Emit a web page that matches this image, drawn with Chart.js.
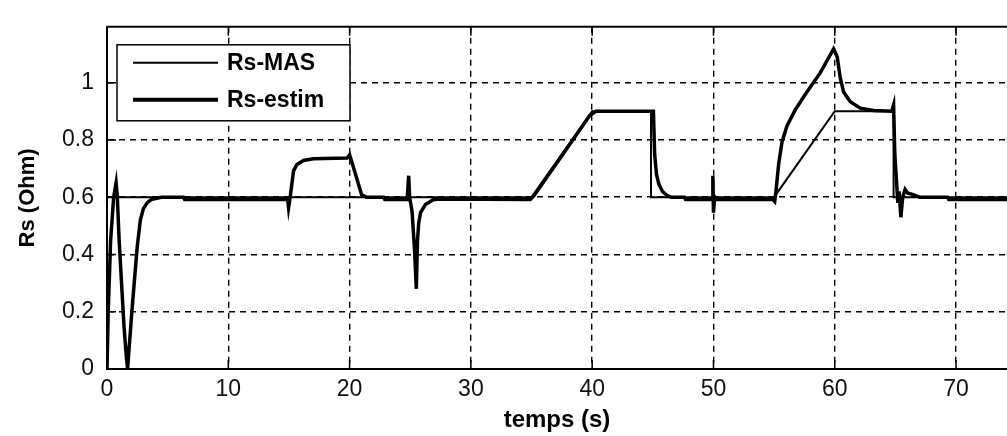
<!DOCTYPE html>
<html>
<head>
<meta charset="utf-8">
<script src="https://cdn.jsdelivr.net/npm/chart.js@4/dist/chart.umd.min.js"></script>
<style>
  html, body { margin: 0; padding: 0; background: #fff; overflow: hidden; }
</style>
</head>
<body>
<canvas id="myChart" width="1007" height="436"></canvas>
<script>
// tick positions
var xTicks = [0, 10, 20, 30, 40, 50, 60, 70];
var yTicks = [0, 0.2, 0.4, 0.6, 0.8, 1];

// Rs-MAS (reference resistance)
var masTime  = [0, 35, 40, 44.85, 44.85, 55, 60, 64.85, 64.85, 76];
var masValue = [0.6, 0.6, 0.9, 0.9, 0.6, 0.6, 0.9, 0.9, 0.6, 0.6];

// Rs-estim (estimated resistance)
var estTime = [0, 0.1, 0.3, 0.55, 0.75, 0.85, 1.0, 1.2, 1.4, 1.6, 1.7, 1.8, 2.05, 2.3, 2.5, 2.75, 3.0, 3.3, 3.7, 4.5,
    6.3, 6.4, 14.9, 14.97, 15.1, 15.38, 15.66, 16.2, 17.0, 19.8, 20.0, 20.1, 21.0, 21.4, 22.8, 22.9,
    24.75, 24.87, 24.95, 25.15, 25.35, 25.5, 25.6, 25.7, 25.85, 26.25, 26.9, 27.3,
    34.9, 35.2, 37.5, 39.8, 40.3, 45.05, 45.15, 45.3, 45.5, 45.8, 46.2, 46.5, 47.6, 47.7,
    49.9, 49.95, 50.0, 50.1, 50.2, 54.9, 55.05, 55.15, 55.37, 55.65, 56.06, 56.74, 57.7, 58.8, 59.9,
    60.2, 60.45, 60.73, 61.28, 62.1, 63.2, 64.7, 64.85, 64.95, 65.1, 65.2, 65.3, 65.45, 65.6, 65.8,
    66.0, 66.4, 67.0, 69.3, 69.4, 76];
var estValue = [0, 0.2, 0.45, 0.6, 0.65, 0.6, 0.45, 0.3, 0.15, 0.04, 0, 0.06, 0.2, 0.33, 0.43, 0.52, 0.56, 0.58, 0.593, 0.6,
    0.6, 0.592, 0.592, 0.563, 0.6, 0.692, 0.714, 0.728, 0.734, 0.737, 0.748, 0.735, 0.608, 0.6, 0.6, 0.592,
    0.592, 0.675, 0.6, 0.55, 0.42, 0.28, 0.45, 0.51, 0.546, 0.574, 0.591, 0.594,
    0.592, 0.605, 0.745, 0.885, 0.9, 0.9, 0.75, 0.68, 0.645, 0.62, 0.605, 0.6, 0.6, 0.592,
    0.592, 0.675, 0.546, 0.6, 0.592, 0.592, 0.585, 0.62, 0.714, 0.793, 0.849, 0.905, 0.967, 1.034, 1.118,
    1.09, 1.017, 0.967, 0.933, 0.911, 0.903, 0.9, 0.922, 0.75, 0.65, 0.58, 0.62, 0.53, 0.6, 0.627,
    0.615, 0.61, 0.6, 0.6, 0.592, 0.592];

function toPoints(xs, ys) {
    return xs.map(function (x, i) { return {x: x, y: ys[i]}; });
}

var fontName = '"Liberation Sans", Arial, sans-serif';

// MATLAB-like frame: top edge, inward ticks, and boxed legend
var matlabFrame = {
    id: 'matlabFrame',
    afterDraw: function (chart) {
        var ctx = chart.ctx, a = chart.chartArea;
        var xs = chart.scales.x, ys = chart.scales.y;
        ctx.save();
        ctx.strokeStyle = '#000';
        ctx.lineWidth = 2;
        ctx.beginPath();
        ctx.moveTo(a.left, a.top);
        ctx.lineTo(a.right, a.top);
        ctx.stroke();

        ctx.lineWidth = 1.5;
        ctx.beginPath();
        xTicks.forEach(function (t) {
            var px = xs.getPixelForValue(t);
            ctx.moveTo(px, a.bottom); ctx.lineTo(px, a.bottom - 9);
            ctx.moveTo(px, a.top); ctx.lineTo(px, a.top + 9);
        });
        yTicks.forEach(function (v) {
            var py = ys.getPixelForValue(v);
            ctx.moveTo(a.left, py); ctx.lineTo(a.left + 9, py);
        });
        ctx.stroke();

        // legend box
        var bx = a.left + 10, by = a.top + 18, bw = 233, bh = 76;
        ctx.fillStyle = '#fff';
        ctx.fillRect(bx, by, bw, bh);
        ctx.lineWidth = 1.5;
        ctx.strokeRect(bx, by, bw, bh);
        ctx.font = 'bold 23px ' + fontName;
        ctx.textBaseline = 'middle';
        ctx.fillStyle = '#000';
        chart.data.datasets.forEach(function (ds, i) {
            var ly = by + 18 + i * 37;
            ctx.lineWidth = i === 0 ? 2 : 4;
            ctx.beginPath();
            ctx.moveTo(bx + 16, ly);
            ctx.lineTo(bx + 101, ly);
            ctx.stroke();
            ctx.fillText(ds.label, bx + 110, ly + 1);
        });
        ctx.restore();
    }
};

var element = document.getElementById('myChart').getContext('2d');

var chartData = {
    datasets: [{
        label: 'Rs-MAS',
        data: toPoints(masTime, masValue),
        borderColor: '#000',
        borderWidth: 2,
        pointRadius: 0,
        fill: false,
        tension: 0
    }, {
        label: 'Rs-estim',
        data: toPoints(estTime, estValue),
        borderColor: '#000',
        borderWidth: 3.5,
        pointRadius: 0,
        fill: false,
        tension: 0
    }]
};

var gridStyle = {color: '#000', lineWidth: 1.4, drawTicks: false};

var chartOptions = {
    responsive: false,
    animation: false,
    devicePixelRatio: 1,
    layout: {padding: {top: 14, right: 0, left: 0, bottom: 0}},
    plugins: {legend: {display: false}, tooltip: {enabled: false}},
    scales: {
        x: {
            type: 'linear',
            min: 0,
            max: 74.2,
            afterBuildTicks: function (s) { s.ticks = xTicks.map(function (v) { return {value: v}; }); },
            afterFit: function (s) { s.height = 67; },
            grid: gridStyle,
            border: {display: true, color: '#000', width: 2, dash: [6, 5]},
            ticks: {color: '#111', padding: 7, maxRotation: 0, font: {family: fontName, size: 23}},
            title: {display: true, text: 'temps (s)', color: '#000', padding: {top: 0, bottom: 1},
                font: {family: fontName, size: 24, weight: 'bold'}}
        },
        y: {
            min: 0,
            max: 1.195,
            afterBuildTicks: function (s) { s.ticks = yTicks.map(function (v) { return {value: v}; }); },
            afterFit: function (s) { s.width = 107; },
            grid: gridStyle,
            border: {display: true, color: '#000', width: 2, dash: [6, 5]},
            ticks: {color: '#111', padding: 13, font: {family: fontName, size: 23},
                callback: function (v) { return String(+v.toFixed(1)); }},
            title: {display: true, text: 'Rs (Ohm)', color: '#000', padding: {top: 15, bottom: 0},
                font: {family: fontName, size: 22, weight: 'bold'}}
        }
    }
};

var chart = new Chart(element, {type: 'line', data: chartData, options: chartOptions, plugins: [matlabFrame]});
</script>
</body>
</html>
